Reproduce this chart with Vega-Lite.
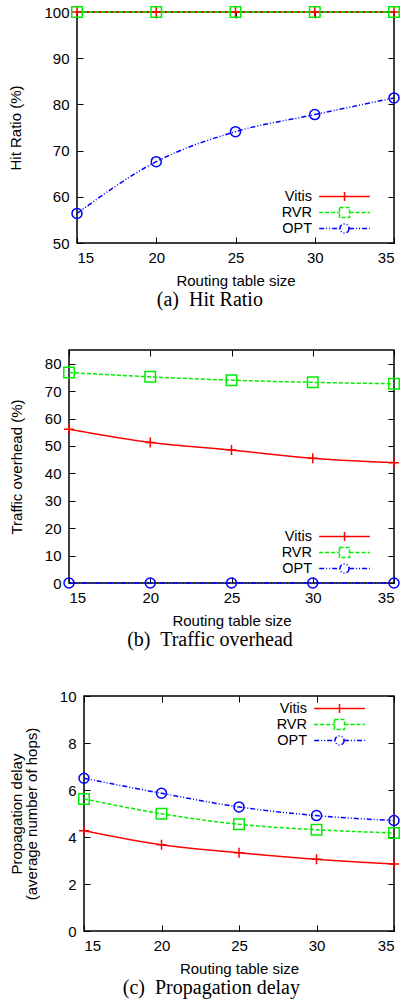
{
  "$schema": "https://vega.github.io/schema/vega-lite/v6.json",
  "padding": {"left": 7, "top": 3, "right": 2, "bottom": 2},
  "background": "white",
  "config": {
    "font": "Liberation Sans",
    "view": {"stroke": "black", "strokeWidth": 1.5},
    "axis": {"grid": false, "domain": false, "tickColor": "black", "tickSize": -6, "tickWidth": 1, "labelFontSize": 15, "labelColor": "black", "labelFont": "Liberation Sans", "titleFont": "Liberation Sans", "titleFontSize": 15, "titleFontWeight": "normal", "titleColor": "black"},
    "axisLeft": {"labelPadding": 14, "titlePadding": 20},
    "axisBottom": {"labelPadding": 13, "titlePadding": 8},
    "title": {"font": "Liberation Serif", "fontSize": 20, "fontWeight": "normal", "color": "black", "orient": "bottom", "frame": "bounds", "anchor": "middle", "offset": 2},
    "line": {"strokeWidth": 1.5, "interpolate": "monotone"}
  },
  "datasets": {
    "hit": [
      {"size": 15, "series": "Vitis", "value": 100}, {"size": 20, "series": "Vitis", "value": 100}, {"size": 25, "series": "Vitis", "value": 100}, {"size": 30, "series": "Vitis", "value": 100}, {"size": 35, "series": "Vitis", "value": 100},
      {"size": 15, "series": "RVR", "value": 100}, {"size": 20, "series": "RVR", "value": 100}, {"size": 25, "series": "RVR", "value": 100}, {"size": 30, "series": "RVR", "value": 100}, {"size": 35, "series": "RVR", "value": 100},
      {"size": 15, "series": "OPT", "value": 56.4}, {"size": 20, "series": "OPT", "value": 67.6}, {"size": 25, "series": "OPT", "value": 74.1}, {"size": 30, "series": "OPT", "value": 77.8}, {"size": 35, "series": "OPT", "value": 81.4}
    ],
    "traffic": [
      {"size": 15, "series": "Vitis", "value": 56.1}, {"size": 20, "series": "Vitis", "value": 51.3}, {"size": 25, "series": "Vitis", "value": 48.5}, {"size": 30, "series": "Vitis", "value": 45.5}, {"size": 35, "series": "Vitis", "value": 43.9},
      {"size": 15, "series": "RVR", "value": 76.8}, {"size": 20, "series": "RVR", "value": 75.2}, {"size": 25, "series": "RVR", "value": 74.0}, {"size": 30, "series": "RVR", "value": 73.2}, {"size": 35, "series": "RVR", "value": 72.7},
      {"size": 15, "series": "OPT", "value": 0}, {"size": 20, "series": "OPT", "value": 0}, {"size": 25, "series": "OPT", "value": 0}, {"size": 30, "series": "OPT", "value": 0}, {"size": 35, "series": "OPT", "value": 0}
    ],
    "delay": [
      {"size": 15, "series": "Vitis", "value": 4.27}, {"size": 20, "series": "Vitis", "value": 3.67}, {"size": 25, "series": "Vitis", "value": 3.33}, {"size": 30, "series": "Vitis", "value": 3.05}, {"size": 35, "series": "Vitis", "value": 2.85},
      {"size": 15, "series": "RVR", "value": 5.62}, {"size": 20, "series": "RVR", "value": 4.99}, {"size": 25, "series": "RVR", "value": 4.54}, {"size": 30, "series": "RVR", "value": 4.31}, {"size": 35, "series": "RVR", "value": 4.17},
      {"size": 15, "series": "OPT", "value": 6.5}, {"size": 20, "series": "OPT", "value": 5.86}, {"size": 25, "series": "OPT", "value": 5.28}, {"size": 30, "series": "OPT", "value": 4.91}, {"size": 35, "series": "OPT", "value": 4.70}
    ]
  },
  "vconcat": [
    {"hconcat": [
    {"width": 1, "height": 1, "data": {"values": []}, "mark": {"type": "point", "opacity": 0}, "encoding": {}, "view": {"stroke": null}},
    {
      "width": 317, "height": 231,
      "data": {"name": "hit"},
      "title": {"text": "(a)\u00a0 Hit Ratio"},
      "layer": [
        {"mark": {"type": "line"},
         "encoding": {
           "x": {"field": "size", "type": "quantitative", "scale": {"domain": [15, 35], "nice": false}, "axis": {"values": [15, 20, 25, 30, 35], "title": "Routing table size"}},
           "y": {"field": "value", "type": "quantitative", "scale": {"domain": [50, 100], "nice": false}, "axis": {"values": [50, 60, 70, 80, 90, 100], "title": "Hit Ratio (%)"}},
           "color": {"field": "series", "type": "nominal", "scale": {"domain": ["Vitis", "RVR", "OPT"], "range": ["#ff0000", "#00ee00", "#0000ff"]}, "legend": {"orient": "bottom-right", "title": null, "offset": 6, "labelAlign": "right", "labelOffset": -40, "symbolSize": 169, "labelFontSize": 14.5, "labelFont": "Liberation Sans", "labelColor": "black", "symbolStrokeWidth": 1.5, "symbolOpacity": 1, "rowPadding": -2, "padding": 0}},
           "strokeDash": {"field": "series", "type": "nominal", "scale": {"domain": ["Vitis", "RVR", "OPT"], "range": [[1, 0], [4, 2], [5, 2, 1, 2, 1, 2]]}, "legend": {"orient": "bottom-right", "title": null, "offset": 6, "labelAlign": "right", "labelOffset": -40, "symbolSize": 169, "labelFontSize": 14.5, "labelFont": "Liberation Sans", "labelColor": "black", "symbolStrokeWidth": 1.5, "symbolOpacity": 1, "rowPadding": -2, "padding": 0}}
         }},
        {"transform": [{"filter": "datum.series === 'Vitis'"}],
         "mark": {"type": "point", "shape": "M-1,0H1M0,-1V1", "size": 100, "color": "#ff0000", "strokeWidth": 1.5, "filled": false, "opacity": 1},
         "encoding": {"x": {"field": "size", "type": "quantitative", "scale": {"domain": [15, 35], "nice": false}, "axis": null}, "y": {"field": "value", "type": "quantitative", "scale": {"domain": [50, 100], "nice": false}, "axis": null}}},
        {"transform": [{"filter": "datum.series === 'RVR'"}],
         "mark": {"type": "point", "shape": "square", "size": 110, "color": "#00ee00", "strokeWidth": 1.5, "filled": false, "opacity": 1},
         "encoding": {"x": {"field": "size", "type": "quantitative", "scale": {"domain": [15, 35], "nice": false}, "axis": null}, "y": {"field": "value", "type": "quantitative", "scale": {"domain": [50, 100], "nice": false}, "axis": null}}},
        {"transform": [{"filter": "datum.series === 'OPT'"}],
         "mark": {"type": "point", "shape": "circle", "size": 100, "color": "#0000ff", "strokeWidth": 1.5, "filled": false, "opacity": 1},
         "encoding": {"x": {"field": "size", "type": "quantitative", "scale": {"domain": [15, 35], "nice": false}, "axis": null}, "y": {"field": "value", "type": "quantitative", "scale": {"domain": [50, 100], "nice": false}, "axis": null}}},
        {"mark": {"type": "point", "opacity": 0, "filled": false},
         "encoding": {
           "x": {"field": "size", "type": "quantitative", "scale": {"domain": [15, 35], "nice": false}, "axis": {"orient": "top", "values": [15, 20, 25, 30, 35], "labels": false, "title": null}},
           "y": {"field": "value", "type": "quantitative", "scale": {"domain": [50, 100], "nice": false}, "axis": {"orient": "right", "values": [50, 60, 70, 80, 90, 100], "labels": false, "title": null}},
           "color": {"field": "series", "type": "nominal", "scale": {"domain": ["Vitis", "RVR", "OPT"], "range": ["#ff0000", "#00ee00", "#0000ff"]}, "legend": {"orient": "bottom-right", "title": null, "offset": 6, "labelAlign": "right", "labelOffset": -40, "symbolSize": 169, "labelFontSize": 14.5, "labelFont": "Liberation Sans", "labelColor": "black", "symbolStrokeWidth": 1.5, "symbolOpacity": 1, "rowPadding": -2, "padding": 0}},
           "strokeDash": {"field": "series", "type": "nominal", "scale": {"domain": ["Vitis", "RVR", "OPT"], "range": [[1, 0], [4, 2], [5, 2, 1, 2, 1, 2]]}, "legend": {"orient": "bottom-right", "title": null, "offset": 6, "labelAlign": "right", "labelOffset": -40, "symbolSize": 169, "labelFontSize": 14.5, "labelFont": "Liberation Sans", "labelColor": "black", "symbolStrokeWidth": 1.5, "symbolOpacity": 1, "rowPadding": -2, "padding": 0}},
           "shape": {"field": "series", "type": "nominal", "scale": {"domain": ["Vitis", "RVR", "OPT"], "range": ["M-3.9,0H3.9M0,-0.7V0.7M6.1,0", "M-3.9,0H-0.77M0.77,0H3.9M-0.77,-0.77H0.77V0.77H-0.77ZM6.1,0", "M-3.9,0H-0.7M0.7,0H3.9M0.7,0A0.7,0.7 0 1 1 -0.7,0A0.7,0.7 0 1 1 0.7,0M6.1,0"]}, "legend": {"orient": "bottom-right", "title": null, "offset": 6, "labelAlign": "right", "labelOffset": -40, "symbolSize": 169, "labelFontSize": 14.5, "labelFont": "Liberation Sans", "labelColor": "black", "symbolStrokeWidth": 1.5, "symbolOpacity": 1, "rowPadding": -2, "padding": 0}}
         }}
      ],
      "resolve": {"axis": {"x": "independent", "y": "independent"}}
    }],
    "spacing": 0,
    "resolve": {"scale": {"color": "independent", "strokeDash": "independent", "shape": "independent"}, "legend": {"color": "independent", "strokeDash": "independent", "shape": "independent"}}},
    {"hconcat": [
        {"width": 1, "height": 1, "data": {"values": []}, "mark": {"type": "point", "opacity": 0}, "encoding": {}, "view": {"stroke": null}},
        {
          "width": 325, "height": 233,
          "data": {"name": "traffic"},
          "title": {"text": "(b)\u00a0 Traffic overhead"},
          "layer": [
            {"mark": {"type": "line"},
             "encoding": {
               "x": {"field": "size", "type": "quantitative", "scale": {"domain": [15, 35], "nice": false}, "axis": {"values": [15, 20, 25, 30, 35], "title": "Routing table size"}},
               "y": {"field": "value", "type": "quantitative", "scale": {"domain": [0, 85], "nice": false}, "axis": {"values": [0, 10, 20, 30, 40, 50, 60, 70, 80], "title": "Traffic overhead (%)"}},
               "color": {"field": "series", "type": "nominal", "scale": {"domain": ["Vitis", "RVR", "OPT"], "range": ["#ff0000", "#00ee00", "#0000ff"]}, "legend": {"orient": "bottom-right", "title": null, "offset": 6, "labelAlign": "right", "labelOffset": -40, "symbolSize": 169, "labelFontSize": 14.5, "labelFont": "Liberation Sans", "labelColor": "black", "symbolStrokeWidth": 1.5, "symbolOpacity": 1, "rowPadding": -2, "padding": 0}},
               "strokeDash": {"field": "series", "type": "nominal", "scale": {"domain": ["Vitis", "RVR", "OPT"], "range": [[1, 0], [4, 2], [5, 2, 1, 2, 1, 2]]}, "legend": {"orient": "bottom-right", "title": null, "offset": 6, "labelAlign": "right", "labelOffset": -40, "symbolSize": 169, "labelFontSize": 14.5, "labelFont": "Liberation Sans", "labelColor": "black", "symbolStrokeWidth": 1.5, "symbolOpacity": 1, "rowPadding": -2, "padding": 0}}
             }},
            {"transform": [{"filter": "datum.series === 'Vitis'"}],
             "mark": {"type": "point", "shape": "M-1,0H1M0,-1V1", "size": 100, "color": "#ff0000", "strokeWidth": 1.5, "filled": false, "opacity": 1},
             "encoding": {"x": {"field": "size", "type": "quantitative", "scale": {"domain": [15, 35], "nice": false}, "axis": null}, "y": {"field": "value", "type": "quantitative", "scale": {"domain": [0, 85], "nice": false}, "axis": null}}},
            {"transform": [{"filter": "datum.series === 'RVR'"}],
             "mark": {"type": "point", "shape": "square", "size": 110, "color": "#00ee00", "strokeWidth": 1.5, "filled": false, "opacity": 1},
             "encoding": {"x": {"field": "size", "type": "quantitative", "scale": {"domain": [15, 35], "nice": false}, "axis": null}, "y": {"field": "value", "type": "quantitative", "scale": {"domain": [0, 85], "nice": false}, "axis": null}}},
            {"transform": [{"filter": "datum.series === 'OPT'"}],
             "mark": {"type": "point", "shape": "circle", "size": 100, "color": "#0000ff", "strokeWidth": 1.5, "filled": false, "opacity": 1},
             "encoding": {"x": {"field": "size", "type": "quantitative", "scale": {"domain": [15, 35], "nice": false}, "axis": null}, "y": {"field": "value", "type": "quantitative", "scale": {"domain": [0, 85], "nice": false}, "axis": null}}},
            {"mark": {"type": "point", "opacity": 0, "filled": false},
             "encoding": {
               "x": {"field": "size", "type": "quantitative", "scale": {"domain": [15, 35], "nice": false}, "axis": {"orient": "top", "values": [15, 20, 25, 30, 35], "labels": false, "title": null}},
               "y": {"field": "value", "type": "quantitative", "scale": {"domain": [0, 85], "nice": false}, "axis": {"orient": "right", "values": [0, 10, 20, 30, 40, 50, 60, 70, 80], "labels": false, "title": null}},
               "color": {"field": "series", "type": "nominal", "scale": {"domain": ["Vitis", "RVR", "OPT"], "range": ["#ff0000", "#00ee00", "#0000ff"]}, "legend": {"orient": "bottom-right", "title": null, "offset": 6, "labelAlign": "right", "labelOffset": -40, "symbolSize": 169, "labelFontSize": 14.5, "labelFont": "Liberation Sans", "labelColor": "black", "symbolStrokeWidth": 1.5, "symbolOpacity": 1, "rowPadding": -2, "padding": 0}},
               "strokeDash": {"field": "series", "type": "nominal", "scale": {"domain": ["Vitis", "RVR", "OPT"], "range": [[1, 0], [4, 2], [5, 2, 1, 2, 1, 2]]}, "legend": {"orient": "bottom-right", "title": null, "offset": 6, "labelAlign": "right", "labelOffset": -40, "symbolSize": 169, "labelFontSize": 14.5, "labelFont": "Liberation Sans", "labelColor": "black", "symbolStrokeWidth": 1.5, "symbolOpacity": 1, "rowPadding": -2, "padding": 0}},
               "shape": {"field": "series", "type": "nominal", "scale": {"domain": ["Vitis", "RVR", "OPT"], "range": ["M-3.9,0H3.9M0,-0.7V0.7M6.1,0", "M-3.9,0H-0.77M0.77,0H3.9M-0.77,-0.77H0.77V0.77H-0.77ZM6.1,0", "M-3.9,0H-0.7M0.7,0H3.9M0.7,0A0.7,0.7 0 1 1 -0.7,0A0.7,0.7 0 1 1 0.7,0M6.1,0"]}, "legend": {"orient": "bottom-right", "title": null, "offset": 6, "labelAlign": "right", "labelOffset": -40, "symbolSize": 169, "labelFontSize": 14.5, "labelFont": "Liberation Sans", "labelColor": "black", "symbolStrokeWidth": 1.5, "symbolOpacity": 1, "rowPadding": -2, "padding": 0}}
             }}
          ],
          "resolve": {"axis": {"x": "independent", "y": "independent"}}
        }],
    "spacing": 0,
    "resolve": {"scale": {"color": "independent", "strokeDash": "independent", "shape": "independent"}, "legend": {"color": "independent", "strokeDash": "independent", "shape": "independent"}}},
    {"hconcat": [
        {"width": 1, "height": 1, "data": {"values": []}, "mark": {"type": "point", "opacity": 0}, "encoding": {}, "view": {"stroke": null}},
        {
          "width": 310, "height": 235,
          "data": {"name": "delay"},
          "title": {"text": "(c)\u00a0 Propagation delay"},
          "layer": [
            {"mark": {"type": "line"},
             "encoding": {
               "x": {"field": "size", "type": "quantitative", "scale": {"domain": [15, 35], "nice": false}, "axis": {"values": [15, 20, 25, 30, 35], "title": "Routing table size"}},
               "y": {"field": "value", "type": "quantitative", "scale": {"domain": [0, 10], "nice": false}, "axis": {"values": [0, 2, 4, 6, 8, 10], "title": ["Propagation delay", "(average number of hops)"], "titleLineHeight": 15}},
               "color": {"field": "series", "type": "nominal", "scale": {"domain": ["Vitis", "RVR", "OPT"], "range": ["#ff0000", "#00ee00", "#0000ff"]}, "legend": {"orient": "top-right", "title": null, "offset": 5, "labelAlign": "right", "labelOffset": -40, "symbolSize": 169, "labelFontSize": 14.5, "labelFont": "Liberation Sans", "labelColor": "black", "symbolStrokeWidth": 1.5, "symbolOpacity": 1, "rowPadding": -2, "padding": 0}},
               "strokeDash": {"field": "series", "type": "nominal", "scale": {"domain": ["Vitis", "RVR", "OPT"], "range": [[1, 0], [4, 2], [5, 2, 1, 2, 1, 2]]}, "legend": {"orient": "top-right", "title": null, "offset": 5, "labelAlign": "right", "labelOffset": -40, "symbolSize": 169, "labelFontSize": 14.5, "labelFont": "Liberation Sans", "labelColor": "black", "symbolStrokeWidth": 1.5, "symbolOpacity": 1, "rowPadding": -2, "padding": 0}}
             }},
            {"transform": [{"filter": "datum.series === 'Vitis'"}],
             "mark": {"type": "point", "shape": "M-1,0H1M0,-1V1", "size": 100, "color": "#ff0000", "strokeWidth": 1.5, "filled": false, "opacity": 1},
             "encoding": {"x": {"field": "size", "type": "quantitative", "scale": {"domain": [15, 35], "nice": false}, "axis": null}, "y": {"field": "value", "type": "quantitative", "scale": {"domain": [0, 10], "nice": false}, "axis": null}}},
            {"transform": [{"filter": "datum.series === 'RVR'"}],
             "mark": {"type": "point", "shape": "square", "size": 110, "color": "#00ee00", "strokeWidth": 1.5, "filled": false, "opacity": 1},
             "encoding": {"x": {"field": "size", "type": "quantitative", "scale": {"domain": [15, 35], "nice": false}, "axis": null}, "y": {"field": "value", "type": "quantitative", "scale": {"domain": [0, 10], "nice": false}, "axis": null}}},
            {"transform": [{"filter": "datum.series === 'OPT'"}],
             "mark": {"type": "point", "shape": "circle", "size": 100, "color": "#0000ff", "strokeWidth": 1.5, "filled": false, "opacity": 1},
             "encoding": {"x": {"field": "size", "type": "quantitative", "scale": {"domain": [15, 35], "nice": false}, "axis": null}, "y": {"field": "value", "type": "quantitative", "scale": {"domain": [0, 10], "nice": false}, "axis": null}}},
            {"mark": {"type": "point", "opacity": 0, "filled": false},
             "encoding": {
               "x": {"field": "size", "type": "quantitative", "scale": {"domain": [15, 35], "nice": false}, "axis": {"orient": "top", "values": [15, 20, 25, 30, 35], "labels": false, "title": null}},
               "y": {"field": "value", "type": "quantitative", "scale": {"domain": [0, 10], "nice": false}, "axis": {"orient": "right", "values": [0, 2, 4, 6, 8, 10], "labels": false, "title": null}},
               "color": {"field": "series", "type": "nominal", "scale": {"domain": ["Vitis", "RVR", "OPT"], "range": ["#ff0000", "#00ee00", "#0000ff"]}, "legend": {"orient": "top-right", "title": null, "offset": 5, "labelAlign": "right", "labelOffset": -40, "symbolSize": 169, "labelFontSize": 14.5, "labelFont": "Liberation Sans", "labelColor": "black", "symbolStrokeWidth": 1.5, "symbolOpacity": 1, "rowPadding": -2, "padding": 0}},
               "strokeDash": {"field": "series", "type": "nominal", "scale": {"domain": ["Vitis", "RVR", "OPT"], "range": [[1, 0], [4, 2], [5, 2, 1, 2, 1, 2]]}, "legend": {"orient": "top-right", "title": null, "offset": 5, "labelAlign": "right", "labelOffset": -40, "symbolSize": 169, "labelFontSize": 14.5, "labelFont": "Liberation Sans", "labelColor": "black", "symbolStrokeWidth": 1.5, "symbolOpacity": 1, "rowPadding": -2, "padding": 0}},
               "shape": {"field": "series", "type": "nominal", "scale": {"domain": ["Vitis", "RVR", "OPT"], "range": ["M-3.9,0H3.9M0,-0.7V0.7M7.1,0", "M-3.9,0H-0.77M0.77,0H3.9M-0.77,-0.77H0.77V0.77H-0.77ZM7.1,0", "M-3.9,0H-0.7M0.7,0H3.9M0.7,0A0.7,0.7 0 1 1 -0.7,0A0.7,0.7 0 1 1 0.7,0M7.1,0"]}, "legend": {"orient": "top-right", "title": null, "offset": 5, "labelAlign": "right", "labelOffset": -40, "symbolSize": 169, "labelFontSize": 14.5, "labelFont": "Liberation Sans", "labelColor": "black", "symbolStrokeWidth": 1.5, "symbolOpacity": 1, "rowPadding": -2, "padding": 0}}
             }}
          ],
          "resolve": {"axis": {"x": "independent", "y": "independent"}}
        }],
    "spacing": 0,
    "resolve": {"scale": {"color": "independent", "strokeDash": "independent", "shape": "independent"}, "legend": {"color": "independent", "strokeDash": "independent", "shape": "independent"}}}
  ],
  "spacing": 37,
  "resolve": {"scale": {"color": "independent", "strokeDash": "independent", "shape": "independent"}, "legend": {"color": "independent", "strokeDash": "independent", "shape": "independent"}}
}
